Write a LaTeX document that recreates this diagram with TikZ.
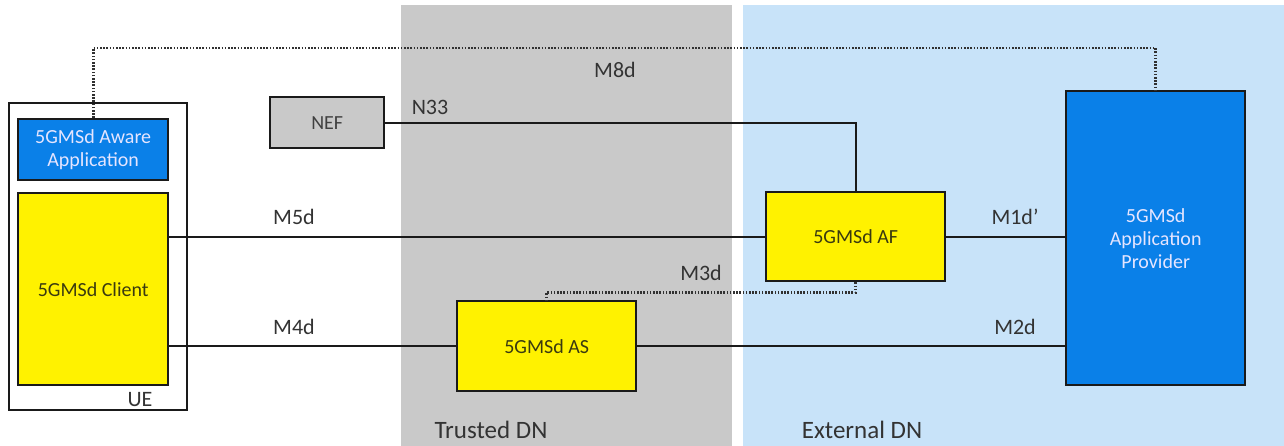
\documentclass[tikz,border=0pt]{standalone}
\usepackage{fontspec}
\setmainfont{Carlito}
\definecolor{bandgrey}{HTML}{C9C9C9}
\definecolor{bandblue}{HTML}{C8E3F9}
\definecolor{boxblue}{HTML}{0A80E8}
\definecolor{labgrey}{HTML}{333333}
\definecolor{edge}{HTML}{1A1A1A}
\definecolor{ytext}{HTML}{3A3A10}
\begin{document}
\begin{tikzpicture}[x=1pt,y=-1pt,
  box/.style={draw=edge, line width=2.4pt, anchor=north west, inner sep=0pt, font=\fontsize{20}{23}\selectfont, align=center},
  ybox/.style={box, fill=yellow, text=ytext},
  bbox/.style={box, fill=boxblue, text=white!90!blue},
  gbox/.style={box, fill=bandgrey, text=black!75},
  conn/.style={draw=edge, line width=2pt},
  dotline/.style={draw=edge!90, line width=2.6pt, dash pattern=on 1.6pt off 1.6pt},
  lab/.style={text=labgrey, font=\fontsize{22}{26}\selectfont, inner sep=0pt},
  dnlab/.style={text=labgrey, font=\fontsize{25}{28}\selectfont, inner sep=0pt}]
\useasboundingbox (0,0) rectangle (1284,446);
\fill[white] (0,0) rectangle (1284,446);
% bands
\fill[bandgrey] (401,5) rectangle (732,446);
\fill[bandblue] (743,5) rectangle (1284,446);
% UE
\node[draw=edge, line width=2.4pt, minimum width=178pt, minimum height=307pt, anchor=north west, inner sep=0pt] (ue) at (8,102) {};
\node[bbox, minimum width=150pt, minimum height=61pt] (aware) at (17,118) {5GMSd Aware\\Application};
\node[ybox, minimum width=150pt, minimum height=192pt] (client) at (17,192) {5GMSd Client};
\node[lab] (uelab) at (140,400) {UE};
% NEF
\node[gbox, minimum width=114pt, minimum height=51pt] (nef) at (269,96) {NEF};
% AF
\node[ybox, minimum width=179pt, minimum height=89pt] (af) at (765,191) {5GMSd AF};
% AS
\node[ybox, minimum width=179pt, minimum height=90pt] (as) at (456,300) {5GMSd AS};
% Application Provider
\node[bbox, minimum width=179pt, minimum height=294pt] (ap) at (1065,90) {5GMSd\\Application\\Provider};
% connectors
\draw[conn] (client.east |- af.west) -- (af.west);
\draw[conn] (af.east) -- (af.east -| ap.west);
\draw[conn] (client.east |- as.west) -- (as.west);
\draw[conn] (as.east) -- (as.east -| ap.west);
\draw[conn] (nef.east) -| (af.north);
\draw[dotline] (af.south) -- ++(0,10) -| (as.north);
\draw[dotline] (aware.north) -- (aware.north |- 0,48) -| (ap.north);
% labels
\node[lab] (m8d) at (615,70) {M8d};
\node[lab] (n33) at (430,107) {N33};
\node[lab] (m5d) at (294,217) {M5d};
\node[lab] (m1d) at (1015,217) {M1d'};
\node[lab] (m3d) at (701,273) {M3d};
\node[lab] (m4d) at (294,327) {M4d};
\node[lab] (m2d) at (1015,327) {M2d};
\node[dnlab] (trusted) at (491,430) {Trusted DN};
\node[dnlab] (external) at (862,430) {External DN};
\end{tikzpicture}
\end{document}
